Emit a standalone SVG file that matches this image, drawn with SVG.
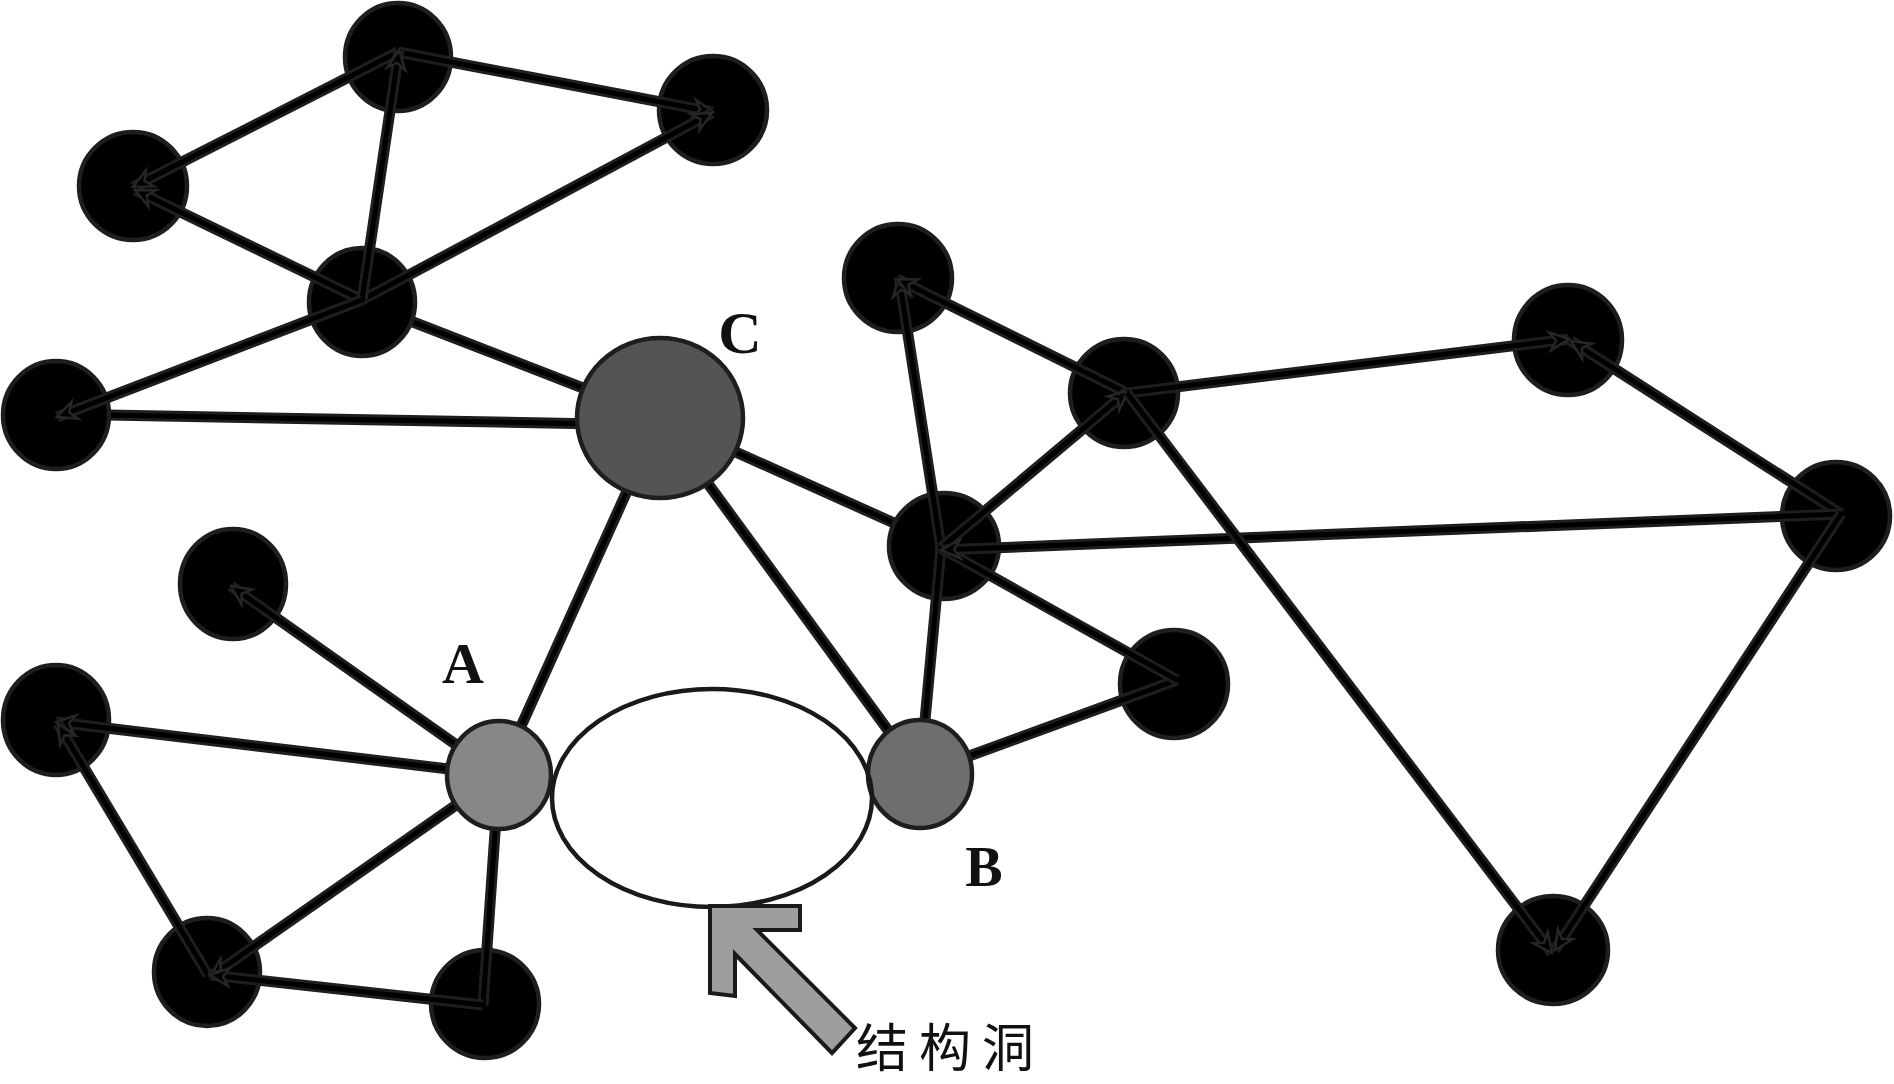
<svg xmlns="http://www.w3.org/2000/svg" width="1894" height="1084" viewBox="0 0 1894 1084">
<style>
.bg{fill:#fff}
.nd{fill:#000;stroke:#1e1e1e;stroke-width:4.5}
.o{stroke:#1e1e1e;stroke-width:11;fill:none;stroke-linecap:butt;stroke-linejoin:miter}
.i{stroke:#000;stroke-width:5;fill:none;stroke-linecap:butt}
.lbl{font-family:"Liberation Serif","Times New Roman",serif;font-weight:bold;fill:#111;text-anchor:middle}
.cn{font-family:"Noto Sans CJK SC","Noto Sans",sans-serif;font-size:52px;fill:#111;letter-spacing:11px}
</style>
<defs>
<marker id="ah" markerUnits="userSpaceOnUse" viewBox="-24 -13 26 26" refX="0" refY="0" markerWidth="26" markerHeight="26" orient="auto">
<path d="M0,0 L-19,-9 L-13,0 L-19,9 Z" fill="#000" stroke="#262626" stroke-width="2.5" stroke-linejoin="miter"/>
</marker>
</defs>
<rect class="bg" x="0" y="0" width="1894" height="1084"/>

<g id="hidden-links">
<line class="o" x1="660" y1="418" x2="413" y2="322"/>
<line class="i" x1="660" y1="418" x2="413" y2="322"/>
<line class="o" x1="600" y1="424" x2="108" y2="415"/>
<line class="i" x1="600" y1="424" x2="108" y2="415"/>
<line class="o" x1="660" y1="418" x2="894" y2="523"/>
<line class="i" x1="660" y1="418" x2="894" y2="523"/>
</g>

<g id="node-n1"><ellipse class="nd" cx="398" cy="57" rx="53" ry="54"/></g>
<g id="node-n2"><ellipse class="nd" cx="713" cy="110" rx="54" ry="54"/></g>
<g id="node-n3"><ellipse class="nd" cx="133" cy="186" rx="54" ry="54"/></g>
<g id="node-n4"><ellipse class="nd" cx="362" cy="302" rx="53" ry="54"/></g>
<g id="node-n5"><ellipse class="nd" cx="56" cy="415" rx="53" ry="54"/></g>
<g id="node-n6"><ellipse class="nd" cx="898" cy="278" rx="54" ry="54"/></g>
<g id="node-n7"><ellipse class="nd" cx="1124" cy="393" rx="54" ry="54"/></g>
<g id="node-n8"><ellipse class="nd" cx="1568" cy="340" rx="54" ry="55"/></g>
<g id="node-n9"><ellipse class="nd" cx="1836" cy="516" rx="54" ry="54"/></g>
<g id="node-h2"><ellipse class="nd" cx="944" cy="546" rx="55" ry="53"/></g>
<g id="node-n10"><ellipse class="nd" cx="1174" cy="684" rx="54" ry="54"/></g>
<g id="node-n11"><ellipse class="nd" cx="1553" cy="950" rx="55" ry="54"/></g>
<g id="node-n12"><ellipse class="nd" cx="233" cy="584" rx="53" ry="55"/></g>
<g id="node-n13"><ellipse class="nd" cx="56" cy="720" rx="53" ry="55"/></g>
<g id="node-n14"><ellipse class="nd" cx="207" cy="972" rx="53" ry="54"/></g>
<g id="node-n15"><ellipse class="nd" cx="485" cy="1004" rx="54" ry="54"/></g>

<g id="connectors">
<line class="o" x1="660" y1="418" x2="499" y2="775"/>
<line class="i" x1="660" y1="418" x2="499" y2="775"/>
<line class="o" x1="660" y1="418" x2="920" y2="774"/>
<line class="i" x1="660" y1="418" x2="920" y2="774"/>
<line class="o" x1="920" y1="774" x2="941" y2="548"/>
<line class="i" x1="920" y1="774" x2="941" y2="548"/>
<line class="o" x1="920" y1="774" x2="1177" y2="680"/>
<line class="i" x1="920" y1="774" x2="1177" y2="680"/>
<line class="o" x1="941" y1="548" x2="1177" y2="680"/>
<line class="i" x1="941" y1="548" x2="1177" y2="680"/>
<line class="o" x1="499" y1="775" x2="483" y2="1005"/>
<line class="i" x1="499" y1="775" x2="483" y2="1005"/>

<line class="o" x1="398" y1="52" x2="713" y2="112"/>
<line class="i" x1="398" y1="52" x2="713" y2="112" marker-end="url(#ah)"/>
<line class="o" x1="362" y1="300" x2="712" y2="113"/>
<line class="i" x1="362" y1="300" x2="712" y2="113" marker-end="url(#ah)"/>
<line class="o" x1="398" y1="52" x2="133" y2="187"/>
<line class="i" x1="398" y1="52" x2="133" y2="187" marker-end="url(#ah)"/>
<line class="o" x1="362" y1="300" x2="135" y2="190"/>
<line class="i" x1="362" y1="300" x2="135" y2="190" marker-end="url(#ah)"/>
<line class="o" x1="362" y1="300" x2="399" y2="50"/>
<line class="i" x1="362" y1="300" x2="399" y2="50" marker-end="url(#ah)"/>
<line class="o" x1="362" y1="300" x2="57" y2="417"/>
<line class="i" x1="362" y1="300" x2="57" y2="417" marker-end="url(#ah)"/>

<line class="o" x1="941" y1="548" x2="899" y2="277"/>
<line class="i" x1="941" y1="548" x2="899" y2="277" marker-end="url(#ah)"/>
<line class="o" x1="1127" y1="393" x2="897" y2="279"/>
<line class="i" x1="1127" y1="393" x2="897" y2="279" marker-end="url(#ah)"/>
<line class="o" x1="941" y1="548" x2="1128" y2="391"/>
<line class="i" x1="941" y1="548" x2="1128" y2="391" marker-end="url(#ah)"/>
<line class="o" x1="1127" y1="393" x2="1569" y2="339"/>
<line class="i" x1="1127" y1="393" x2="1569" y2="339" marker-end="url(#ah)"/>
<line class="o" x1="1841" y1="514" x2="1571" y2="341"/>
<line class="i" x1="1841" y1="514" x2="1571" y2="341" marker-end="url(#ah)"/>
<line class="o" x1="1841" y1="514" x2="941" y2="550"/>
<line class="i" x1="1841" y1="514" x2="941" y2="550" marker-end="url(#ah)"/>
<line class="o" x1="1127" y1="393" x2="1552" y2="953"/>
<line class="i" x1="1127" y1="393" x2="1552" y2="953" marker-end="url(#ah)"/>
<line class="o" x1="1841" y1="514" x2="1555" y2="950"/>
<line class="i" x1="1841" y1="514" x2="1555" y2="950" marker-end="url(#ah)"/>

<line class="o" x1="499" y1="775" x2="231" y2="586"/>
<line class="i" x1="499" y1="775" x2="231" y2="586" marker-end="url(#ah)"/>
<line class="o" x1="499" y1="775" x2="56" y2="722"/>
<line class="i" x1="499" y1="775" x2="56" y2="722" marker-end="url(#ah)"/>
<line class="o" x1="208" y1="975" x2="58" y2="724"/>
<line class="i" x1="208" y1="975" x2="58" y2="724" marker-end="url(#ah)"/>
<line class="o" x1="499" y1="775" x2="210" y2="977"/>
<line class="i" x1="499" y1="775" x2="210" y2="977" marker-end="url(#ah)"/>
<line class="o" x1="483" y1="1005" x2="210" y2="975"/>
<line class="i" x1="483" y1="1005" x2="210" y2="975" marker-end="url(#ah)"/>
</g>

<g id="node-c"><ellipse cx="660" cy="418" rx="83" ry="80" fill="#545454" stroke="#1e1e1e" stroke-width="4.5"/></g>
<g id="node-a"><ellipse cx="499" cy="775" rx="52" ry="54" fill="#878787" stroke="#1e1e1e" stroke-width="4.5"/></g>
<g id="node-b"><ellipse cx="920" cy="774" rx="52" ry="54" fill="#6e6e6e" stroke="#1e1e1e" stroke-width="4.5"/></g>

<g id="labels">
<text class="lbl" x="740" y="353" font-size="60">C</text>
<text class="lbl" x="463" y="683" font-size="58">A</text>
<text class="lbl" x="984" y="886" font-size="56">B</text>
</g>

<g id="structural-hole">
<ellipse cx="712" cy="798" rx="160" ry="109" fill="none" stroke="#1a1a1a" stroke-width="4.5"/>
<polygon points="710,906 800,906 800,930 757,930 855,1028 832,1053 735,954 735,996 710,993" fill="#9e9e9e" stroke="#1a1a1a" stroke-width="4" stroke-linejoin="miter"/>
<text class="cn" x="856" y="1067">结构洞</text>
</g>
</svg>
